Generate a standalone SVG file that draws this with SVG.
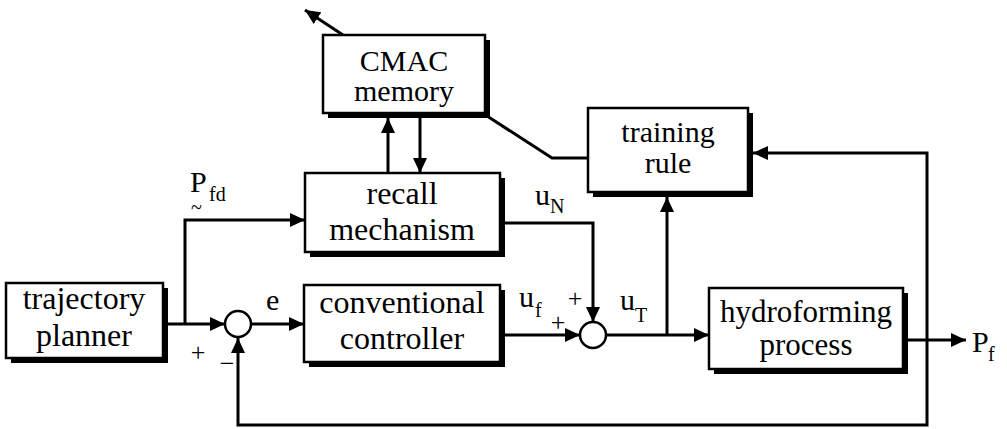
<svg xmlns="http://www.w3.org/2000/svg" width="1007" height="429" viewBox="0 0 1007 429">
  <defs>
    <marker id="arr" markerWidth="16" markerHeight="14" refX="15" refY="7" orient="auto" markerUnits="userSpaceOnUse">
      <path d="M0,0 L15,7 L0,14 Z" fill="#000"/>
    </marker>
    <style>
      text { font-family: 'Liberation Serif', 'Times New Roman', serif; fill: #000; }
      .box { fill: #fff; stroke: #000; stroke-width: 2.5; }
      .shadow { fill: #000; }
      .sum { fill: #fff; stroke: #000; stroke-width: 2.5; }
      .wire { fill: none; stroke: #000; stroke-width: 3; }
      .lbl { font-size: 32px; text-anchor: middle; }
      .sym { font-size: 30px; }
      .sub { font-size: 20px; }
      .sign { font-size: 26px; text-anchor: middle; }
    </style>
  </defs>
  <rect width="1007" height="429" fill="#fff"/>

  <!-- signal lines -->
  <g id="connectors">
    <!-- CMAC output, up and to the left -->
    <line class="wire" x1="343" y1="35" x2="305" y2="10" marker-end="url(#arr)"/>
    <!-- training rule into CMAC memory -->
    <polyline class="wire" points="588,158 552,158 487,116"/>
    <!-- recall mechanism <-> CMAC memory -->
    <line class="wire" x1="388" y1="173" x2="388" y2="118" marker-end="url(#arr)"/>
    <line class="wire" x1="420" y1="118" x2="420" y2="173" marker-end="url(#arr)"/>
    <!-- planner to first summing junction -->
    <line class="wire" x1="167" y1="324" x2="225" y2="324" marker-end="url(#arr)"/>
    <!-- Pfd branch to recall mechanism -->
    <polyline class="wire" points="185,324 185,220 305,220" marker-end="url(#arr)"/>
    <!-- error into controller -->
    <line class="wire" x1="251" y1="324" x2="304" y2="324" marker-end="url(#arr)"/>
    <!-- uf into second summing junction -->
    <line class="wire" x1="505" y1="335" x2="580" y2="335" marker-end="url(#arr)"/>
    <!-- uN into second summing junction -->
    <polyline class="wire" points="505,223 593,223 593,322" marker-end="url(#arr)"/>
    <!-- uT into process -->
    <line class="wire" x1="606" y1="335" x2="709" y2="335" marker-end="url(#arr)"/>
    <!-- uT branch to training rule -->
    <line class="wire" x1="667" y1="335" x2="667" y2="197" marker-end="url(#arr)"/>
    <!-- process output Pf -->
    <line class="wire" x1="907" y1="340" x2="966" y2="340" marker-end="url(#arr)"/>
    <!-- Pf feedback to training rule -->
    <polyline class="wire" points="927,340 927,153 753,153" marker-end="url(#arr)"/>
    <!-- Pf feedback to first summing junction -->
    <polyline class="wire" points="927,340 927,425 238,425 238,338" marker-end="url(#arr)"/>
  </g>

  <g id="cmac">
    <rect class="shadow" x="328" y="40" width="162" height="78"/>
    <rect class="box" x="323" y="35" width="162" height="78"/>
    <text class="lbl" x="404" y="71" style="font-size:30px">CMAC</text>
    <text class="lbl" x="404" y="101" style="font-size:30px">memory</text>
  </g>

  <g id="training">
    <rect class="shadow" x="593" y="113" width="160" height="84"/>
    <rect class="box" x="588" y="108" width="160" height="84"/>
    <text class="lbl" x="668" y="142" style="font-size:30px">training</text>
    <text class="lbl" x="668" y="173" style="font-size:30px">rule</text>
  </g>

  <g id="recall">
    <rect class="shadow" x="310" y="178" width="195" height="79"/>
    <rect class="box" x="305" y="173" width="195" height="79"/>
    <text class="lbl" x="402" y="204">recall</text>
    <text class="lbl" x="402" y="240">mechanism</text>
  </g>

  <g id="planner">
    <rect class="shadow" x="11" y="288" width="157" height="75"/>
    <rect class="box" x="6" y="283" width="157" height="75"/>
    <text class="lbl" x="84" y="309">trajectory</text>
    <text class="lbl" x="84" y="346">planner</text>
  </g>

  <g id="controller">
    <rect class="shadow" x="309" y="290" width="196" height="77"/>
    <rect class="box" x="304" y="285" width="196" height="77"/>
    <text class="lbl" x="402" y="313">conventional</text>
    <text class="lbl" x="402" y="349">controller</text>
  </g>

  <g id="process">
    <rect class="shadow" x="714" y="293" width="194" height="81"/>
    <rect class="box" x="709" y="288" width="194" height="81"/>
    <text class="lbl" x="806" y="322" style="font-size:31px">hydroforming</text>
    <text class="lbl" x="806" y="355" style="font-size:31px">process</text>
  </g>

  <g id="sum1">
    <circle class="sum" cx="238" cy="324" r="13"/>
    <text class="sign" x="198" y="361">+</text>
    <text class="sign" x="227" y="372">−</text>
  </g>

  <g id="sum2">
    <circle class="sum" cx="593" cy="335" r="13"/>
    <text class="sign" x="575" y="307">+</text>
    <text class="sign" x="558" y="331">+</text>
  </g>

  <g id="labels">
    <text class="sym" x="190" y="192">P</text>
    <text class="sub" x="191" y="214">~</text>
    <text class="sub" x="209" y="201">fd</text>
    <text class="sym" x="266" y="310">e</text>
    <text class="sym" x="535" y="205">u</text>
    <text class="sub" x="550" y="213">N</text>
    <text class="sym" x="519" y="307">u</text>
    <text class="sub" x="535" y="317">f</text>
    <text class="sym" x="620" y="310">u</text>
    <text class="sub" x="635" y="322">T</text>
    <text class="sym" x="972" y="352">P</text>
    <text class="sub" x="988" y="361">f</text>
  </g>
</svg>
